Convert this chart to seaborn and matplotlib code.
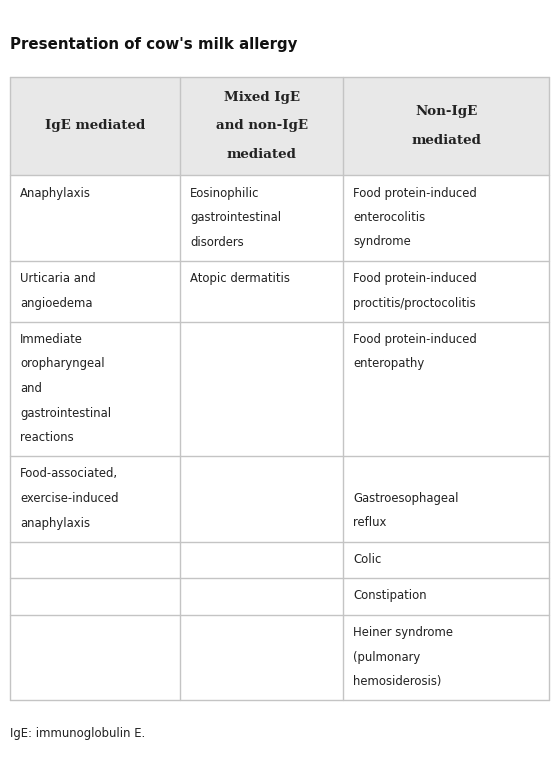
import matplotlib
matplotlib.use("Agg")
import matplotlib.pyplot as plt
from matplotlib.patches import Rectangle
import seaborn as sns

sns.set_theme(style="white")
plt.rcParams["font.family"] = ["DejaVu Sans"]

# ── Data ─────────────────────────────────────────────────────────────────────
title = "Presentation of cow's milk allergy"
footnote = "IgE: immunoglobulin E."
headers = [
    ["IgE mediated"],
    ["Mixed IgE", "and non-IgE", "mediated"],
    ["Non-IgE", "mediated"],
]
col_ige = [
    ["Anaphylaxis"],
    ["Urticaria and", "angioedema"],
    ["Immediate", "oropharyngeal", "and", "gastrointestinal", "reactions"],
    ["Food-associated,", "exercise-induced", "anaphylaxis"],
    [], [], [],
]
col_mixed = [
    ["Eosinophilic", "gastrointestinal", "disorders"],
    ["Atopic dermatitis"],
    [], [], [], [], [],
]
col_non = [
    ["Food protein-induced", "enterocolitis", "syndrome"],
    ["Food protein-induced", "proctitis/proctocolitis"],
    ["Food protein-induced", "enteropathy"],
    ["", "Gastroesophageal", "reflux"],
    ["Colic"],
    ["Constipation"],
    ["Heiner syndrome", "(pulmonary", "hemosiderosis)"],
]

# ── Layout (pixels) ──────────────────────────────────────────────────────────
W, H = 560, 764
col_x = [10, 180, 343, 549]
top, head_h = 77, 98
line_h = 24.5
border = "#c4c4c4"
text_c = "#222222"
body_fs = 8.4

fig = plt.figure(figsize=(W / 100, H / 100), dpi=100)
ax = fig.add_axes([0, 0, 1, 1])
ax.set_xlim(0, W)
ax.set_ylim(H, 0)
ax.axis("off")

ax.text(10, 44, title, fontsize=10.8, fontweight="bold", va="center", color="#111111")

# header
ax.add_patch(Rectangle((col_x[0], top), col_x[-1] - col_x[0], head_h,
                       facecolor="#e8e8e8", edgecolor="none"))
for i, lines in enumerate(headers):
    cx = (col_x[i] + col_x[i + 1]) / 2
    n = len(lines)
    y0 = top + head_h / 2 - (n - 1) * 28 / 2
    for k, s in enumerate(lines):
        ax.text(cx, y0 + k * 28, s, fontsize=9.6, fontweight="bold",
                family="DejaVu Serif", ha="center", va="center", color=text_c)

# body
y = top + head_h
row_tops = [y]
for a, b, c in zip(col_ige, col_mixed, col_non):
    n = max(len(a), len(b), len(c), 1)
    for i, lines in enumerate([a, b, c]):
        for k, s in enumerate(lines):
            ax.text(col_x[i] + 10, y + 18 + k * line_h, s, fontsize=body_fs,
                    va="center", color=text_c)
    y += n * line_h + 12
    row_tops.append(y)

for ry in row_tops[:-1]:
    ax.plot([col_x[0], col_x[-1]], [ry, ry], color=border, lw=1)
ax.plot([col_x[0], col_x[-1]], [top, top], color=border, lw=1)
ax.plot([col_x[0], col_x[-1]], [y, y], color=border, lw=1)
for cx in col_x:
    ax.plot([cx, cx], [top, y], color=border, lw=1)

ax.text(10, y + 33, footnote, fontsize=body_fs, va="center", color=text_c)

fig.savefig("out.png", dpi=100)
